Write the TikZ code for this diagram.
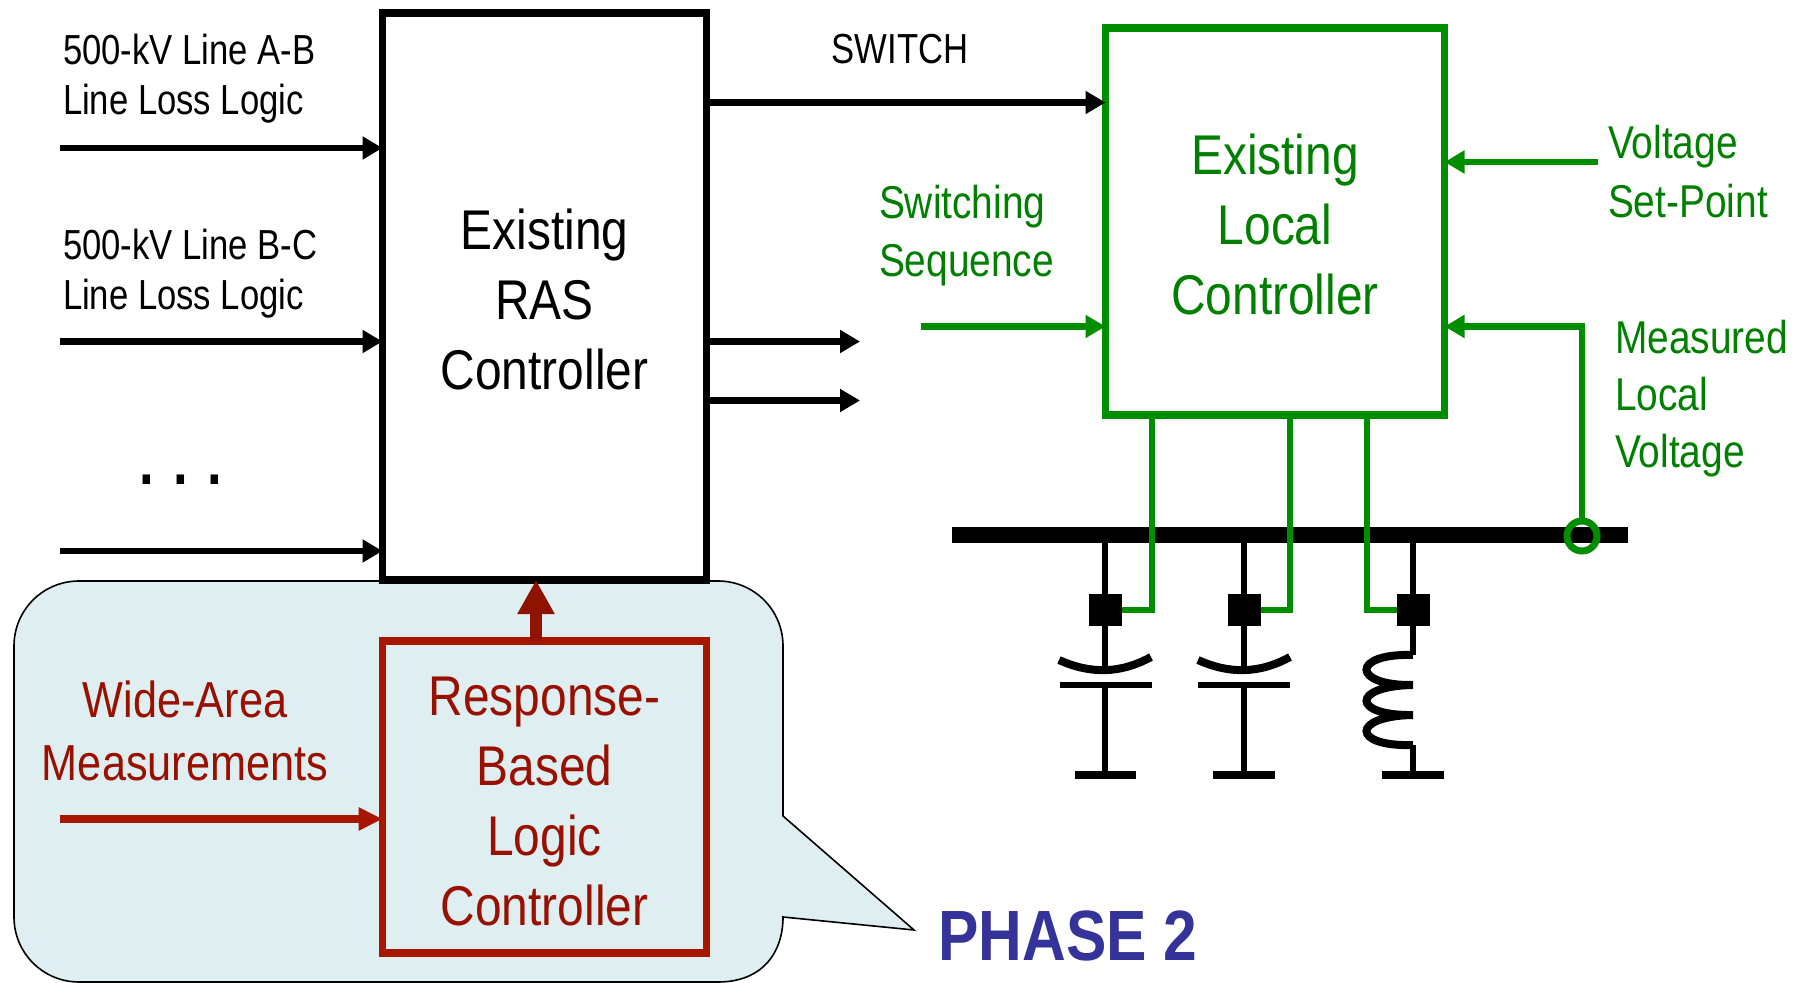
\documentclass[tikz,border=0pt]{standalone}
\usepackage{fontspec}
\usetikzlibrary{arrows.meta}
\newfontfamily\smallfam[FakeStretch=0.825]{Liberation Sans}
\newfontfamily\sidefam[FakeStretch=0.845]{Liberation Sans}
\newfontfamily\bigfam[FakeStretch=0.855]{Liberation Sans}
\newfontfamily\phasefam[FakeStretch=0.85]{Liberation Sans}
\definecolor{ctrlgreen}{HTML}{008E00}
\definecolor{txtgreen}{HTML}{007F00}
\definecolor{ctrlred}{HTML}{A81600}
\definecolor{txtred}{HTML}{990F00}
\definecolor{uparrow}{HTML}{8F1400}
\definecolor{calloutfill}{HTML}{DFEEF1}
\definecolor{phaseblue}{HTML}{333399}
\newcommand{\dropline}{\rule{0pt}{23.6pt}}
\tikzset{
  boxbase/.style={draw,outer sep=0pt,inner sep=0pt,line width=3.75pt,align=center,font=\bigfam\fontsize{28}{35}\selectfont},
  smalltxt/.style={inner sep=0pt,outer sep=0pt,align=left,anchor=base west,font=\smallfam\fontsize{21}{25.2}\selectfont},
  sidetxt/.style={inner sep=0pt,outer sep=0pt,align=left,anchor=base west,text=txtgreen,font=\sidefam\fontsize{23}{29}\selectfont},
  blk/.style={line width=3.4pt,-{Triangle[length=10pt,width=11pt]}},
  grn/.style={line width=3.4pt,ctrlgreen,-{Triangle[length=10pt,width=11pt]}},
  redarrow/.style={line width=3.8pt,ctrlred,-{Triangle[length=12pt,width=11pt]}},
  gwire/.style={line width=2.75pt,ctrlgreen,line join=miter},
  bwire/.style={line width=3.2pt,black},
  gndbar/.style={line width=4pt,black},
  sq/.style={fill=black,inner sep=0pt,outer sep=0pt,minimum width=16.5pt,minimum height=16pt},
}
\begin{document}
\begin{tikzpicture}[x=0.5pt,y=-0.5pt]
\useasboundingbox (0,0) rectangle (1809,983);
% callout
\draw[fill=calloutfill,line width=0.8pt,line join=miter]
  (79,581) -- (718,581) .. controls (754,581) and (783,610) .. (783,646)
  -- (783,816) -- (914,930) -- (783,917)
  .. controls (783,953) and (762,982) .. (718,982)
  -- (79,982) .. controls (43,982) and (14,953) .. (14,917)
  -- (14,646) .. controls (14,610) and (43,581) .. (79,581) -- cycle;
% boxes
\node[boxbase,minimum width=162pt,minimum height=283.5pt] (ras) at (544.5,296.5) {\dropline Existing\\RAS\\Controller};
\node[boxbase,draw=ctrlgreen,text=txtgreen,minimum width=169.5pt,minimum height=193.5pt] (local) at (1275,221.5) {\dropline Existing\\Local\\Controller};
\node[boxbase,draw=ctrlred,text=txtred,minimum width=162pt,minimum height=156pt] (resp) at (544.5,797) {\dropline Response-\\Based\\Logic\\Controller};
% labels
\node[smalltxt] (l1) at (63,115) {500-kV Line A-B\\Line Loss Logic};
\node[smalltxt] (l2) at (63,310) {500-kV Line B-C\\Line Loss Logic};
\node[inner sep=0pt,font=\smallfam\bfseries\fontsize{32}{32}\selectfont] (dots) at (181,480) {. . .};
\node[smalltxt,anchor=base] (sw) at (900,64) {SWITCH};
\node[sidetxt] (seq) at (879,277) {Switching\\Sequence};
\node[sidetxt,font=\sidefam\fontsize{23}{29.5}\selectfont] (vset) at (1608,218) {Voltage\\Set-Point};
\node[sidetxt,font=\sidefam\fontsize{23}{28.5}\selectfont] (meas) at (1615,468) {Measured\\Local\\Voltage};
\node[inner sep=0pt,text=txtred,align=center,font=\bigfam\fontsize{25.3}{31.5}\selectfont] (wide) at (185,731) {Wide-Area\\Measurements};
\node[inner sep=0pt,text=phaseblue,anchor=base west,font=\phasefam\bfseries\fontsize{35.6}{36}\selectfont] (phase) at (938,960) {PHASE 2};
% free ends
\coordinate (a1) at (60,148);
\coordinate (a2) at (60,341.5);
\coordinate (a3) at (60,551);
\coordinate (o1) at (860,341.5);
\coordinate (o2) at (860,400.5);
\coordinate (o1s) at (706,341.5);
\coordinate (o2s) at (706,400.5);
\coordinate (sw1) at (706,102.5);
\coordinate (gs) at (921,326.5);
\coordinate (vs) at (1598,162);
\coordinate (wa) at (60,819);
\coordinate (upx) at (536,600);
% black arrows
\draw[blk] (a1) -- (a1 -| ras.west);
\draw[blk] (a2) -- (a2 -| ras.west);
\draw[blk] (a3) -- (a3 -| ras.west);
\draw[blk] (sw1) -- (sw1 -| local.west);
\draw[blk] (o1s) -- (o1);
\draw[blk] (o2s) -- (o2);
% green arrows
\draw[grn] (gs) -- (gs -| local.west);
\draw[grn] (vs) -- (vs -| local.east);
% red arrows
\draw[redarrow] (wa) -- (wa -| resp.west);
\draw[line width=6pt,uparrow,-{Triangle[length=17pt,width=17.5pt]}] (upx |- resp.north) -- (upx |- ras.south);
% bus
\coordinate (busl) at (952,535);
\coordinate (busr) at (1628,535);
\draw[line width=8pt] (busl) -- (busr);
% switch squares
\node[sq] (s1) at (1105,610) {};
\node[sq] (s2) at (1244,610) {};
\node[sq] (s3) at (1413,610) {};
% capacitor 1
\coordinate (c1t) at (1105,670); \coordinate (c1b) at (1105,685);
\coordinate (g1) at (1105,775);
\draw[bwire] (s1 |- busr) -- (s1);
\draw[bwire] (s1) -- (c1t);
\draw[line width=4pt] (1059,660) .. controls (1090,674) and (1120,674) .. (1151,657);
\draw[line width=3.2pt] (1060,685) -- (1152,685);
\draw[bwire] (c1b) -- (g1);
\draw[gndbar] (1075,775) -- (1136,775);
% capacitor 2
\coordinate (c2t) at (1244,670); \coordinate (c2b) at (1244,685);
\coordinate (g2) at (1244,775);
\draw[bwire] (s2 |- busr) -- (s2);
\draw[bwire] (s2) -- (c2t);
\draw[line width=4pt] (1198,660) .. controls (1229,674) and (1259,674) .. (1290,657);
\draw[line width=3.2pt] (1198,685) -- (1290,685);
\draw[bwire] (c2b) -- (g2);
\draw[gndbar] (1213,775) -- (1275,775);
% inductor
\coordinate (i1) at (1413,655); \coordinate (i2) at (1413,745); \coordinate (g3) at (1413,775);
\draw[bwire] (s3 |- busr) -- (s3);
\draw[bwire] (s3) -- (i1);
\draw[line width=4pt] (i1) .. controls (1351,653) and (1351,686) .. (1413,685)
  .. controls (1351,686) and (1351,716) .. (1413,715)
  .. controls (1351,716) and (1351,747) .. (1413,745);
\draw[bwire] (i2) -- (g3);
\draw[gndbar] (1382,775) -- (1444,775);
% control wires
\coordinate (w1) at (1152,415); \coordinate (w2) at (1290,415); \coordinate (w3) at (1367,415);
\draw[gwire] (w1) -- (w1 |- s1) -- (s1.east);
\draw[gwire] (w2) -- (w2 |- s2) -- (s2.east);
\draw[gwire] (w3) -- (w3 |- s3) -- (s3.west);
% measured voltage
\node[circle,draw=ctrlgreen,line width=3.5pt,inner sep=0pt,outer sep=0pt,minimum size=15pt] (meter) at (1582,536) {};
\draw[grn] (meter.north) -- (meter.north |- 0,326.5) -- (local.east |- 0,326.5);
\end{tikzpicture}
\end{document}
